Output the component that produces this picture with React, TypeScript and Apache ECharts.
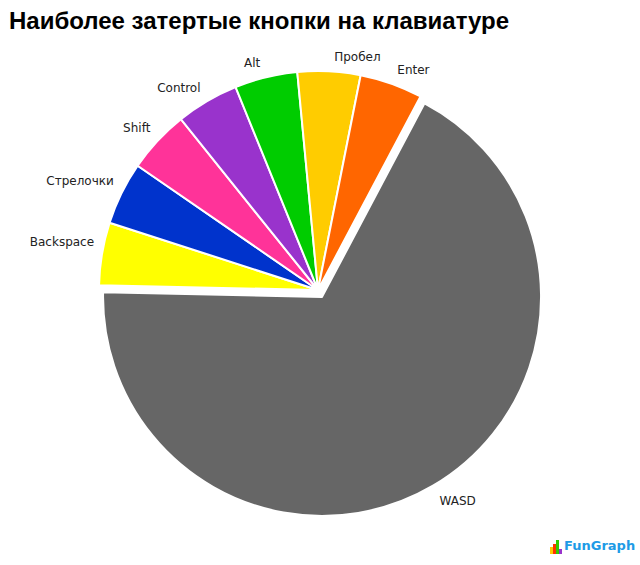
import React, { useEffect, useRef } from "react";
import * as echarts from "echarts";

const TITLE = "Наиболее затертые кнопки на клавиатуре";
const categories = ["WASD", "Backspace", "Стрелочки", "Shift", "Control", "Alt", "Пробел", "Enter"];
const values = [73, 5, 5, 5, 5, 5, 5, 5];
const colors = ["#666666", "#FFFF00", "#0033CC", "#FF3399", "#9933CC", "#00CC00", "#FFCC00", "#FF6600"];
const explodedIndex = 0;

const CX = 318;
const CY = 290;

export default function App() {
  const ref = useRef<HTMLDivElement>(null);
  useEffect(() => {
    if (!ref.current) return;
    const chart = echarts.init(ref.current, undefined, { renderer: "svg" });
    const data = categories.map((name, i) => ({
      name,
      value: values[i],
      selected: i === explodedIndex,
      itemStyle: { color: colors[i] },
    }));
    chart.setOption({
      animation: false,
      backgroundColor: "#ffffff",
      title: {
        text: TITLE,
        left: 4,
        top: 3,
        textStyle: {
          fontFamily: "Liberation Sans",
          fontWeight: "bold",
          fontSize: 24,
          color: "#000000",
        },
      },
      series: [
        {
          type: "pie",
          center: [CX, CY],
          radius: 219,
          startAngle: 62.1,
          clockwise: true,
          selectedMode: "single",
          selectedOffset: 8,
          avoidLabelOverlap: false,
          itemStyle: { borderColor: "#ffffff", borderWidth: 2 },
          label: {
            show: true,
            position: "outside",
            fontFamily: "DejaVu Sans",
            fontSize: 12,
            color: "#222222",
          },
          labelLine: { show: false, length: 3, length2: 0 },
          labelLayout: (p: any) => {
            const mid = p.labelRect.y + p.labelRect.height / 2;
            return { dy: mid < CY ? -11 : 13 };
          },
          emphasis: { disabled: true },
          data,
        },
      ],
      graphic: [
        { type: "rect", shape: { x: 550, y: 547, width: 3, height: 7 }, style: { fill: "#FFCC00" } },
        { type: "rect", shape: { x: 553, y: 544, width: 3, height: 10 }, style: { fill: "#FF3300" } },
        { type: "rect", shape: { x: 556, y: 540, width: 3, height: 14 }, style: { fill: "#33CC00" } },
        { type: "rect", shape: { x: 559, y: 549, width: 3, height: 5 }, style: { fill: "#9933CC" } },
        {
          type: "text",
          left: 564,
          top: 539,
          style: {
            text: "FunGraph",
            fontFamily: "DejaVu Sans",
            fontWeight: "bold",
            fontSize: 13,
            fill: "#1E9BE6",
          },
        },
      ],
    });
    return () => chart.dispose();
  }, []);
  return (
    <div
      ref={ref}
      style={{ position: "fixed", left: 0, top: 0, width: 640, height: 565, background: "#fff" }}
    />
  );
}
